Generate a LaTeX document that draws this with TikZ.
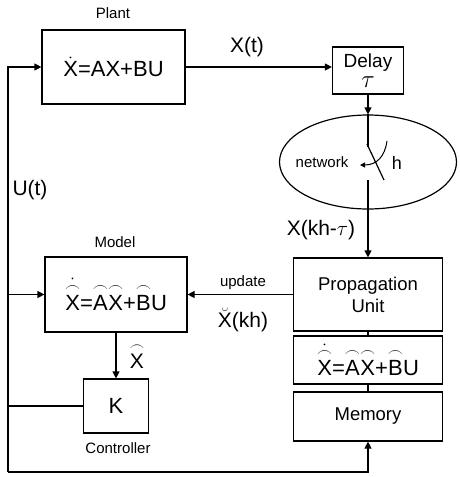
\documentclass[tikz,border=0pt]{standalone}
\usepackage{amsmath}
\usepackage{fix-cm}
\usepackage{fontspec}
\setmainfont{Liberation Sans}
\usetikzlibrary{positioning,calc,arrows.meta,shapes.geometric}
\newcommand{\arcx}[1]{$\overset{\frown}{\text{#1}}$}
\newcommand{\darcx}[1]{$\dot{\overset{\frown}{\text{#1}}}$}

\begin{document}
\begin{tikzpicture}[x=1pt, y=-1pt, line width=1.2pt, block/.style={draw, line width=1.2pt, inner sep=0pt, align=center, font=\fontsize{22}{26}\selectfont}, tag/.style={font=\fontsize{15}{18}\selectfont}, sig/.style={font=\fontsize{21}{25}\selectfont}, arrow/.style={-{Triangle[length=7pt,width=7pt]}}]
\useasboundingbox (0,0) rectangle (459,477);
\node[block, minimum width=143pt, minimum height=74pt] (plant) at (113.5,67) {$\dot{\text{X}}$=AX+BU};
\node[tag] (plantlbl) at (113,13) {Plant};
\node[block, minimum width=71pt, minimum height=47pt, font=\fontsize{19}{20}\selectfont] (delay) at (368,70.5) {Delay\\{\fontsize{25}{25}\selectfont$\tau$}};
\draw[arrow] (plant.east) -- (plant.east -| delay.west);
\node[sig] (xt) at (247,47) {X(t)};
\node[draw, ellipse, line width=1.2pt, minimum width=177pt, minimum height=94pt] (net) at (368,162) {};
\draw[arrow] (delay.south) -- (net.north);
\node[tag] (netlbl) at (322,162) {network};
\node[font=\fontsize{18}{21}\selectfont] (hlbl) at (397,163) {h};
\coordinate (swa) at (368,147);
\coordinate (swb) at (368,180);
\draw (net.north) -- (swa);
\draw (367,144) -- (384,180);
\draw[-{Triangle[length=5pt,width=5pt]}, line width=1pt] (387,141) .. controls (385,156) and (377,165) .. (360,165);
\node[block, minimum width=149pt, minimum height=73pt, font=\fontsize{18.5}{22}\selectfont] (prop) at (368,294.5) {Propagation\\Unit};
\draw[arrow] (swb) -- (prop.north);
\node[sig] (xkh) at (321,230) {X(kh-$\tau$)};
\node[block, minimum width=149pt, minimum height=48pt] (est) at (368,360) {\darcx{X}=\arcx{A}\arcx{X}+\arcx{B}U};
\node[block, minimum width=149pt, minimum height=49pt, font=\fontsize{18.5}{22}\selectfont] (mem) at (368,416.5) {Memory};
\draw (prop.south) -- (est.north);
\draw (est.south) -- (mem.north);
\node[block, minimum width=142pt, minimum height=75pt] (model) at (116,294.5) {\darcx{X}=\arcx{A}\arcx{X}+\arcx{B}U};
\node[tag] (modellbl) at (115,242) {Model};
\draw[arrow] (prop.west) -- (model.east);
\node[tag] (updlbl) at (243,283) {update};
\node[sig] (xbr) at (243,320) {$\breve{\text{X}}$(kh)};
\node[block, minimum width=65pt, minimum height=54pt] (ctrl) at (116,406) {K};
\node[tag] (ctrllbl) at (118,448) {Controller};
\draw[arrow] (model.south) -- (ctrl.north);
\node[sig] (xhat) at (137,356) {\arcx{X}};
\coordinate (ltop) at (8,67);
\coordinate (lbot) at (8,472);
\draw[arrow] (lbot) -- (ltop) -- (plant.west);
\draw[arrow] (lbot) -| (mem.south);
\draw[arrow] (model.west -| ltop) -- (model.west);
\draw (ctrl.west) -- (ctrl.west -| ltop);
\node[sig] (ut) at (30,190) {U(t)};
\end{tikzpicture}
\end{document}
